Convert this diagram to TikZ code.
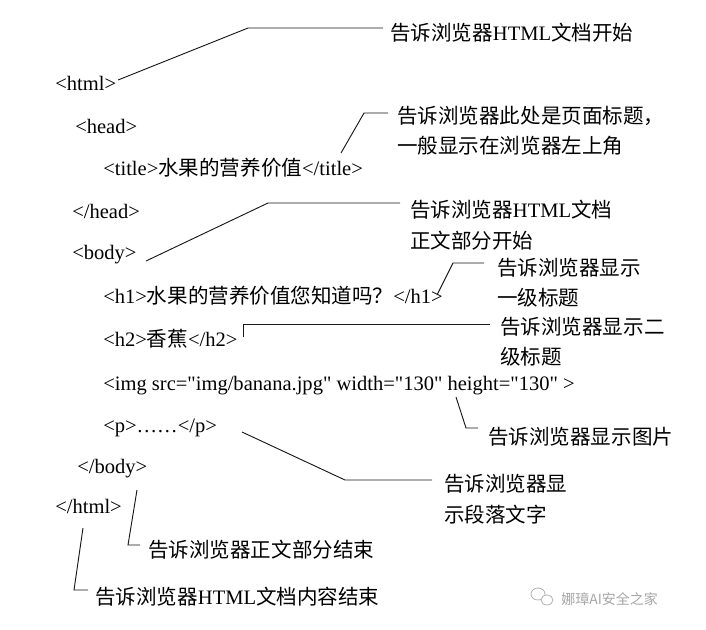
\documentclass[tikz,border=0pt]{standalone}
\usepackage{fontspec}
\setmainfont{Liberation Serif}[Ligatures=TeXOff]
\newfontfamily\zhfont{Noto Sans CJK SC}
\newcommand\zh[1]{{\zhfont #1}}
\begin{document}
\begin{tikzpicture}[x=0.75pt,y=-0.75pt,
  code/.style={anchor=base west,inner sep=0pt,font=\fontsize{15.4}{18}\selectfont},
  note/.style={anchor=base west,inner sep=0pt,font=\fontsize{15.4}{18}\selectfont},
  lead/.style={draw=black!90,line width=0.7pt},
  wmark/.style={anchor=base west,inner sep=0pt,text=black!35,font=\zhfont\fontsize{10.5}{12}\selectfont}]
\useasboundingbox[fill=white] (0,0) rectangle (706,629);

% code lines
\node[code] (html)  at (55,90)  {<html>};
\node[code] (head)  at (75,133) {<head>};
\node[code] (title) at (103,175) {<title>\zh{水果的营养价值}</title>};
\node[code] (ehead) at (72,218) {</head>};
\node[code] (body)  at (72,259) {<body>};
\node[code] (h1)    at (103,303) {<h1>\zh{水果的营养价值您知道吗？}</h1>};
\node[code] (h2)    at (103,346) {<h2>\zh{香蕉}</h2>};
\node[code] (img)   at (103,390) {<img src="img/banana.jpg" width="130" height="130" >};
\node[code] (p)     at (103,432) {<p>……</p>};
\node[code] (ebody) at (77,473) {</body>};
\node[code] (ehtml) at (55,513) {</html>};

% notes
\node[note] (l1)  at (390,40)  {\zh{告诉浏览器}HTML\zh{文档开始}};
\node[note] (l2a) at (397,123) {\zh{告诉浏览器此处是页面标题，}};
\node[note] (l2b) at (397,153) {\zh{一般显示在浏览器左上角}};
\node[note] (l3a) at (410,217) {\zh{告诉浏览器}HTML\zh{文档}};
\node[note] (l3b) at (410,248) {\zh{正文部分开始}};
\node[note] (l4a) at (497,275) {\zh{告诉浏览器显示}};
\node[note] (l4b) at (497,305) {\zh{一级标题}};
\node[note] (l5a) at (500,334) {\zh{告诉浏览器显示二}};
\node[note] (l5b) at (500,364) {\zh{级标题}};
\node[note] (l6)  at (488,444) {\zh{告诉浏览器显示图片}};
\node[note] (l7a) at (444,491) {\zh{告诉浏览器显}};
\node[note] (l7b) at (444,522) {\zh{示段落文字}};
\node[note] (l8)  at (148,557) {\zh{告诉浏览器正文部分结束}};
\node[note] (l9)  at (95,604)  {\zh{告诉浏览器}HTML\zh{文档内容结束}};

% connector points
\coordinate (a1) at (118,80);  \coordinate (b1) at (248,28);  \coordinate (c1) at (383,28);
\coordinate (a2) at (341,153); \coordinate (b2) at (364,113); \coordinate (c2) at (388,113);
\coordinate (a3) at (146,261); \coordinate (b3) at (268,203); \coordinate (c3) at (400,203);
\coordinate (a4) at (437,295); \coordinate (b4) at (453,263); \coordinate (c4) at (484,263);
\coordinate (a5) at (243,337); \coordinate (b5) at (243,324); \coordinate (c5) at (490,324);
\coordinate (a6) at (456,397); \coordinate (b6) at (466,428); \coordinate (c6) at (478,428);
\coordinate (a7) at (242,432); \coordinate (b7) at (345,480); \coordinate (c7) at (432,480);
\coordinate (a8) at (137,490); \coordinate (b8) at (128,545); \coordinate (c8) at (140,545);
\coordinate (a9) at (83,528);  \coordinate (b9) at (74,590);  \coordinate (c9) at (88,590);

\draw[lead] (a1) -- (b1) -- (c1);
\draw[lead] (a2) -- (b2) -- (c2);
\draw[lead] (a3) -- (b3) -- (c3);
\draw[lead] (a4) -- (b4) -- (c4);
\draw[lead] (a5) -- (b5) -- (c5);
\draw[lead] (a6) -- (b6) -- (c6);
\draw[lead] (a7) -- (b7) -- (c7);
\draw[lead] (a8) -- (b8) -- (c8);
\draw[lead] (a9) -- (b9) -- (c9);

% watermark
\begin{scope}[draw=black!30,line width=0.6pt]
  \draw (538,594) ellipse [x radius=7,y radius=6];
  \draw[fill=white] (547,600) ellipse [x radius=6,y radius=5];
\end{scope}
\node[wmark] (wm) at (561,604) {娜璋AI安全之家};
\end{tikzpicture}
\end{document}
